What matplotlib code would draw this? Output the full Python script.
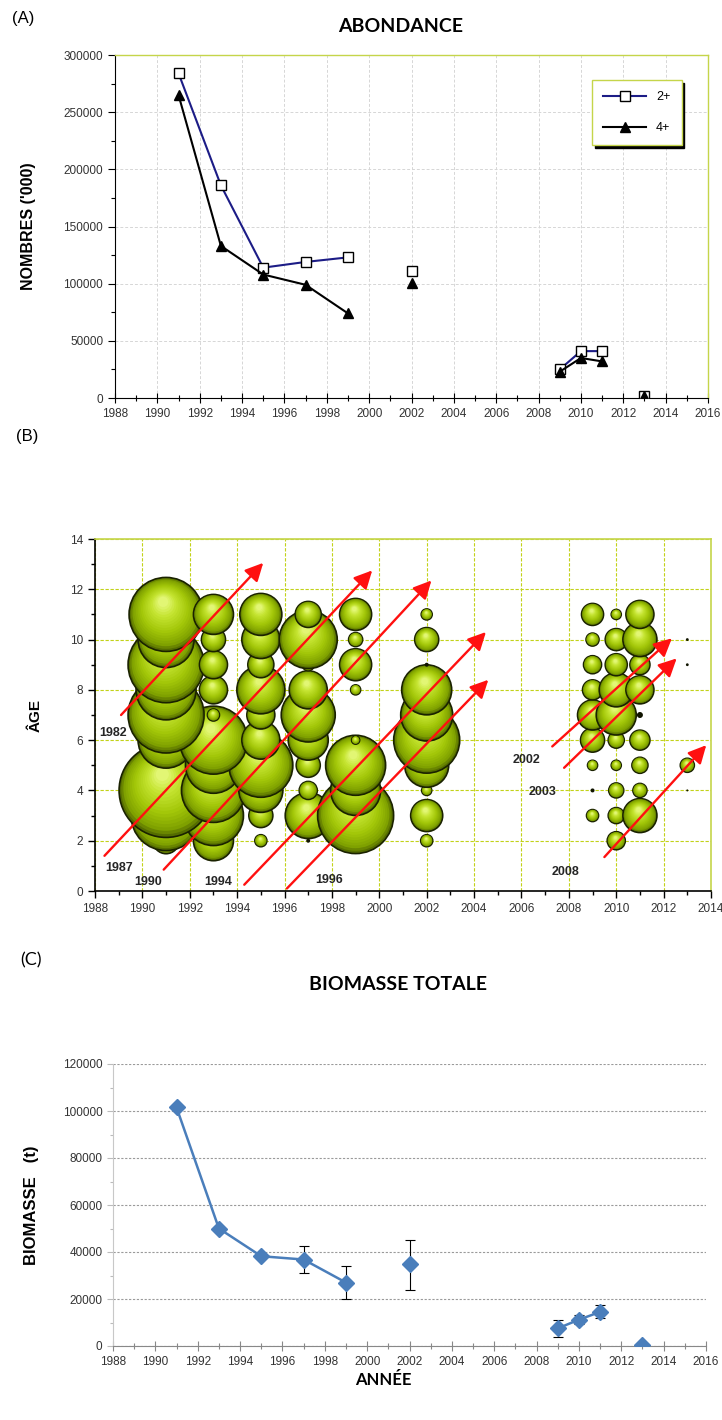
import numpy as np
import matplotlib
matplotlib.use("Agg")
import matplotlib.pyplot as plt
from matplotlib.ticker import MultipleLocator
from matplotlib.colors import LinearSegmentedColormap

nan = np.nan

# ---------------- (A) abundance, thousands of fish (nan = no survey)
years_a = [1991, 1993, 1995, 1997, 1999, 2001, 2002, 2003, 2009, 2010, 2011, 2012, 2013]
abund_2plus = [284000, 186000, 114000, 119000, 123000, nan, 111000, nan, 25000, 41000, 41000, nan, 2000]
abund_4plus = [265000, 133000, 108000, 99000, 74000, nan, 101000, nan, 23000, 35000, 32000, nan, 1500]

# ---------------- (B) abundance at age (index, bubble area)
bubble_years = [1991, 1993, 1995, 1997, 1999, 2002, 2009, 2010, 2011, 2013]
bubble_ages = [2, 3, 4, 5, 6, 7, 8, 9, 10, 11]
bubble_values = [
    [16.9, 122.5, 220.9, 0.4, 78.4, 144.4, 90.0, 144.4, 78.4, 136.9],   # 1991
    [40.0, 90.0, 102.4, 78.4, 115.6, 3.6, 19.6, 19.6, 14.4, 40.0],     # 1993
    [3.6, 14.4, 48.4, 102.4, 36.1, 19.6, 57.6, 16.9, 36.1, 44.1],      # 1995
    [0.4, 52.9, 8.1, 14.4, 40.0, 72.9, 36.1, 3.6, 84.1, 16.9],         # 1997
    [0.0, 144.4, 62.5, 90.0, 1.6, 0.0, 2.5, 25.6, 4.9, 25.6],          # 1999
    [3.6, 25.6, 2.5, 48.4, 108.9, 67.6, 62.5, 0.4, 14.4, 3.0],         # 2002
    [0.0, 3.6, 0.4, 2.5, 14.4, 22.5, 10.0, 8.1, 4.2, 12.1],            # 2009
    [8.1, 6.4, 5.6, 2.5, 6.4, 40.0, 28.9, 12.1, 12.1, 2.5],            # 2010
    [0.0, 28.9, 4.9, 6.4, 10.0, 0.9, 19.6, 10.0, 28.9, 19.6],          # 2011
    [0.0, 0.0, 0.1, 4.9, 0.0, 0.0, 0.0, 0.2, 0.2, 0.0],                # 2013
]

# cohort arrows (year class), start and end in (year, age)
cohort_labels = ["1982", "1987", "1990", "1994", "1996", "2002", "2003", "2008"]
arrow_x0 = [1989.1, 1988.4, 1990.9, 1994.3, 1996.1, 2007.3, 2007.8, 2009.5]
arrow_y0 = [7.0, 1.4, 0.85, 0.25, 0.1, 5.75, 4.9, 1.35]
arrow_x1 = [1995.1, 1999.7, 2002.2, 2004.5, 2004.6, 2012.35, 2012.55, 2013.8]
arrow_y1 = [13.05, 12.75, 12.35, 10.3, 8.4, 10.05, 9.25, 5.8]
label_x = [1988.75, 1989.0, 1990.25, 1993.2, 1997.9, 2006.2, 2006.9, 2007.85]
label_y = [6.3, 0.9, 0.35, 0.35, 0.45, 5.2, 3.95, 0.75]

# ---------------- (C) total biomass, tonnes
years_c = [1991, 1993, 1995, 1997, 1999, 2001, 2002, 2003, 2009, 2010, 2011, 2012, 2013]
biomass = [101500, 50000, 38200, 36800, 27000, nan, 34700, nan, 7500, 11200, 14500, nan, 300]
biomass_low = [nan, nan, nan, 31000, 20000, nan, 24000, nan, 4000, 9500, 11800, nan, nan]
biomass_high = [nan, nan, nan, 42500, 34000, nan, 45000, nan, 11000, 13000, 17500, nan, nan]

DPI = 100
TICK_FONT = ["Liberation Sans", "DejaVu Sans"]
TITLE_FONT = ["Lato", "DejaVu Sans"]
FRAME_GREEN = "#c5d54a"

fig = plt.figure(figsize=(7.22, 14.2), dpi=DPI)


def px_axes(left, top, right, bottom):
    W, H = 722.0, 1420.0
    return fig.add_axes([left / W, 1 - bottom / H, (right - left) / W, (bottom - top) / H])


def style_ticks(ax, size=8.5):
    for lab in ax.get_xticklabels() + ax.get_yticklabels():
        lab.set_fontfamily(TICK_FONT)
        lab.set_fontsize(size)
        lab.set_color("#333333")


# ======================= (A) =======================
axA = px_axes(115, 55, 708, 398)
axA.plot(years_a, abund_2plus, color="#1c1c86", lw=1.5, marker="s", ms=7.5,
         mfc="white", mec="black", mew=1.0, label="2+", zorder=3)
axA.plot(years_a, abund_4plus, color="black", lw=1.5, marker="^", ms=7.5,
         mfc="black", mec="black", label="4+", zorder=3)
axA.set_xlim(1988, 2016)
axA.set_ylim(0, 300000)
axA.xaxis.set_major_locator(MultipleLocator(2))
axA.xaxis.set_minor_locator(MultipleLocator(1))
axA.yaxis.set_major_locator(MultipleLocator(50000))
axA.yaxis.set_minor_locator(MultipleLocator(25000))
axA.grid(which="major", color="#d6d6d6", linestyle=(0, (3, 2)), lw=0.7, zorder=0)
axA.tick_params(axis="x", which="major", direction="inout", length=7, width=0.8)
axA.tick_params(axis="x", which="minor", direction="inout", length=4, width=0.8)
axA.tick_params(axis="y", which="major", direction="out", length=5, width=0.8)
axA.tick_params(axis="y", which="minor", direction="out", length=3, width=0.8)
for s in ("top", "right"):
    axA.spines[s].set_color(FRAME_GREEN)
    axA.spines[s].set_linewidth(1.0)
style_ticks(axA)
axA.set_ylabel("NOMBRES ('000)", fontsize=11.5, fontweight="bold",
               fontfamily=TICK_FONT, labelpad=20)
leg = axA.legend(loc="upper right", bbox_to_anchor=(0.966, 0.945), fancybox=False,
                 edgecolor=FRAME_GREEN, framealpha=1, handlelength=3.4,
                 labelspacing=1.5, borderpad=0.9, prop={"family": TICK_FONT, "size": 9},
                 shadow={"facecolor": "black", "edgecolor": "black", "alpha": 1})
leg.get_frame().set_linewidth(1.0)
fig.text(401 / 722, 1 - 27 / 1420, "ABONDANCE", ha="center", va="center",
         fontsize=14, fontweight="bold", fontfamily=TITLE_FONT)
fig.text(12 / 722, 1 - 18 / 1420, "(A)", ha="left", va="center",
         fontsize=12, fontfamily=TICK_FONT)

# ======================= (B) =======================
axB = px_axes(95, 539, 711, 891)
axB.set_xlim(1988, 2014)
axB.set_ylim(0, 14)
axB.xaxis.set_major_locator(MultipleLocator(2))
axB.xaxis.set_minor_locator(MultipleLocator(1))
axB.yaxis.set_major_locator(MultipleLocator(2))
axB.yaxis.set_minor_locator(MultipleLocator(1))
axB.grid(which="major", color="#c2d21a", linestyle=(0, (3, 1.5)), lw=0.8, zorder=0)
axB.set_axisbelow(True)
axB.tick_params(which="major", direction="out", length=5, width=1.0)
axB.tick_params(which="minor", direction="out", length=3, width=1.0)
for s in ("top", "right"):
    axB.spines[s].set_color(FRAME_GREEN)
    axB.spines[s].set_linewidth(1.2)
for s in ("left", "bottom"):
    axB.spines[s].set_linewidth(1.2)
style_ticks(axB)
axB.set_ylabel("ÂGE", fontsize=11, fontweight="bold", fontfamily=TICK_FONT, labelpad=20)
fig.text(16 / 722, 1 - 437 / 1420, "(B)", ha="left", va="center",
         fontsize=12, fontfamily=TICK_FONT)

# pixel size of one data unit, for shading offsets
p0 = axB.transData.transform((1988, 0))
p1 = axB.transData.transform((1989, 1))
px_x = p1[0] - p0[0]
px_y = p1[1] - p0[1]

shade = LinearSegmentedColormap.from_list(
    "sphere", [(0.0, "#546c00"), (0.12, "#80a200"), (0.4, "#a2c608"),
               (0.75, "#c4e430"), (1.0, "#e2f674")])
N_LAYERS = 18
xs, ys, ss, fcs, ecs, lws = [], [], [], [], [], []
for j, age in enumerate(bubble_ages):          # older ages drawn on top
    for i, yr in enumerate(bubble_years):
        v = bubble_values[i][j]
        if v <= 0:
            continue
        r_px = np.sqrt(v * 10.0)
        r_pt = r_px * 72.0 / DPI
        if r_px < 3.5:
            xs.append(yr); ys.append(age)
            ss.append((2 * r_pt) ** 2); fcs.append("#101400")
            ecs.append("#101400"); lws.append(0.0)
            continue
        xs.append(yr); ys.append(age)
        ss.append((2 * r_pt) ** 2); fcs.append(shade(0.0))
        ecs.append("#1a2200"); lws.append(1.2)
        for k in range(1, N_LAYERS):
            t = k / (N_LAYERS - 1)
            rf = 1 - 0.86 * t
            ox = -0.08 * r_px * t
            oy = 0.34 * r_px * t
            xs.append(yr + ox / px_x); ys.append(age + oy / px_y)
            ss.append((2 * r_pt * rf) ** 2); fcs.append(shade(t))
            ecs.append("none"); lws.append(0.0)
axB.scatter(xs, ys, s=ss, c=fcs, edgecolors=ecs, linewidths=lws, zorder=2)

for lab, x0, y0, x1, y1, lx, ly in zip(cohort_labels, arrow_x0, arrow_y0,
                                       arrow_x1, arrow_y1, label_x, label_y):
    axB.annotate("", xy=(x1, y1), xytext=(x0, y0), zorder=4,
                 arrowprops=dict(arrowstyle="-|>,head_length=0.9,head_width=0.45",
                                 color="#ff1010", lw=1.7, mutation_scale=12,
                                 shrinkA=0, shrinkB=0))
    axB.text(lx, ly, lab, ha="center", va="center", fontsize=9, fontweight="bold",
             fontfamily=TICK_FONT, color="#262626", zorder=5)

# ======================= (C) =======================
axC = px_axes(113, 1064, 706, 1346)
axC.plot(years_c, biomass, color="#4a7ebb", lw=1.8, marker="D", ms=8,
         mfc="#4a7ebb", mec="#4a7ebb", zorder=3)
yerr = [np.array(biomass) - np.array(biomass_low), np.array(biomass_high) - np.array(biomass)]
axC.errorbar(years_c, biomass, yerr=yerr, fmt="none", ecolor="black",
             elinewidth=0.8, capsize=3.5, capthick=0.8, zorder=2)
axC.set_xlim(1988, 2016)
axC.set_ylim(0, 120000)
axC.xaxis.set_major_locator(MultipleLocator(2))
axC.xaxis.set_minor_locator(MultipleLocator(1))
axC.yaxis.set_major_locator(MultipleLocator(20000))
axC.yaxis.set_minor_locator(MultipleLocator(10000))
axC.grid(axis="y", which="major", color="#9a9a9a", linestyle=(0, (2, 1.5)), lw=0.8, zorder=0)
axC.tick_params(axis="x", which="major", direction="inout", length=7, width=0.8, color="#888888")
axC.tick_params(axis="x", which="minor", direction="inout", length=4, width=0.8, color="#888888")
axC.tick_params(axis="y", which="major", direction="out", length=4, width=0.8, color="#bbbbbb")
axC.tick_params(axis="y", which="minor", direction="out", length=2, width=0.8, color="#bbbbbb")
axC.spines["top"].set_visible(False)
axC.spines["right"].set_visible(False)
axC.spines["left"].set_color("#c8c8c8")
axC.spines["bottom"].set_color("#888888")
style_ticks(axC)
axC.set_ylabel("BIOMASSE   (t)", fontsize=12, fontweight="bold", fontfamily=TICK_FONT, labelpad=17)
fig.text(383 / 722, 1 - 1380 / 1420, "ANNÉE", ha="center", va="center",
         fontsize=12, fontweight="bold", fontfamily=TITLE_FONT)
fig.text(398 / 722, 1 - 985 / 1420, "BIOMASSE TOTALE", ha="center", va="center",
         fontsize=14, fontweight="bold", fontfamily=TITLE_FONT)
fig.text(20 / 722, 1 - 960 / 1420, "(C)", ha="left", va="center",
         fontsize=13, fontfamily=TITLE_FONT)

fig.savefig("out.png", dpi=DPI, facecolor="white")
